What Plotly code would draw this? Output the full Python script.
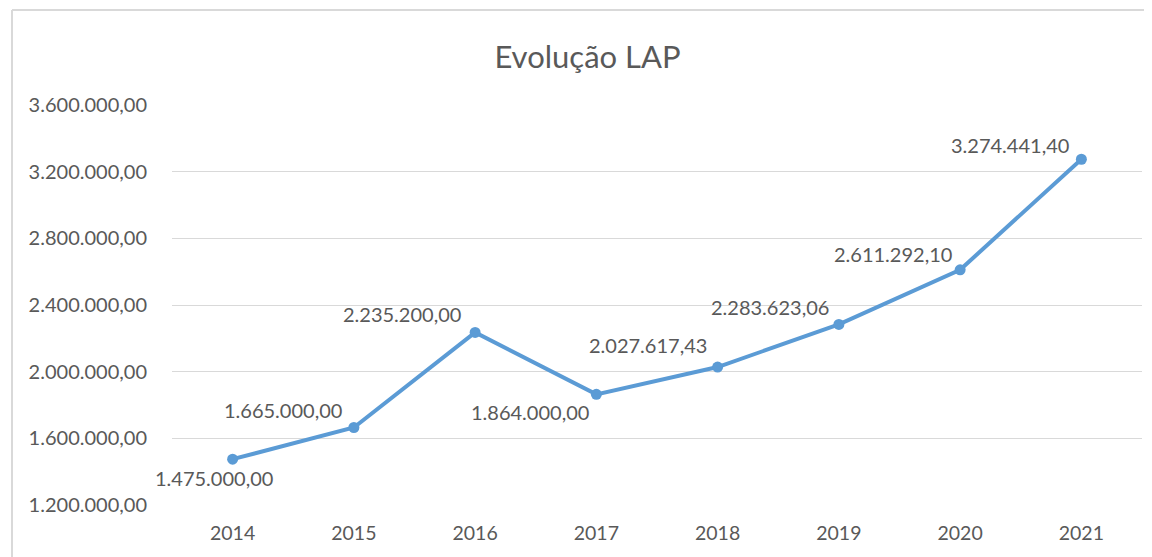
import plotly.graph_objects as go

years = ["2014", "2015", "2016", "2017", "2018", "2019", "2020", "2021"]
values = [1475000.00, 1665000.00, 2235200.00, 1864000.00, 2027617.43, 2283623.06, 2611292.10, 3274441.40]
y_ticks = [1200000, 1600000, 2000000, 2400000, 2800000, 3200000, 3600000]
title_text = "Evolução LAP"

# label offsets in pixels (style only)
label_dx = [-19, -71, -73, -66, -70, -69, -67, -71]
label_dy = [-19, 18, 18, -18, 22, 17, 16, 14]


def fmt_br(v):
    s = f"{v:,.2f}"
    return s.replace(",", "X").replace(".", ",").replace("X", ".")


FONT = "Lato"
GRAY = "#595959"
BLUE = "#5B9BD5"
GRID = "#D9D9D9"
OFF = 8  # page body margin

W, H = 1152 - OFF, 557 - OFF
PL, PR, PT, PB = 172 - OFF, 1142 - OFF, 105 - OFF, 505 - OFF

fig = go.Figure()
fig.add_trace(go.Scatter(
    x=years, y=values, mode="lines+markers",
    line=dict(color=BLUE, width=4),
    marker=dict(color=BLUE, size=11),
    hoverinfo="skip", showlegend=False,
))

for i, (v, dx, dy) in enumerate(zip(values, label_dx, label_dy)):
    fig.add_annotation(
        x=i, y=v, xref="x", yref="y", text=fmt_br(v), showarrow=False,
        xshift=dx, yshift=dy,
        font=dict(family=FONT, size=20, color=GRAY),
    )

# outer chart border (top and left edges visible in the crop)
pw, ph = PR - PL, PB - PT
bx0 = (12 - OFF - PL) / pw
bx1 = (W - PL) / pw
by0 = -(H - PB) / ph
by1 = (PB - (10 - OFF)) / ph
for x0, y0, x1, y1 in [(bx0, by1, bx1, by1), (bx0, by0, bx0, by1)]:
    fig.add_shape(type="line", xref="paper", yref="paper",
                  x0=x0, y0=y0, x1=x1, y1=y1,
                  line=dict(color=GRID, width=2), layer="below")

fig.update_layout(
    width=W, height=H,
    margin=dict(l=PL, r=W - PR, t=PT, b=H - PB),
    paper_bgcolor="white", plot_bgcolor="white",
    title=dict(text=title_text, x=(587.5 - OFF) / W, xref="container", xanchor="center",
               y=1 - (57 - OFF) / H, yref="container", yanchor="middle",
               font=dict(family=FONT, size=31, color=GRAY)),
    font=dict(family=FONT, color=GRAY),
)
fig.update_xaxes(
    type="category", range=[-0.5, 7.5],
    showgrid=False, showline=False, zeroline=False,
    ticks="outside", ticklen=11, tickcolor="rgba(0,0,0,0)",
    tickfont=dict(family=FONT, size=19.5, color=GRAY),
)
fig.update_yaxes(
    range=[1200000, 3600000],
    tickvals=y_ticks, ticktext=[fmt_br(t) for t in y_ticks],
    showgrid=True, gridcolor=GRID, gridwidth=1.3,
    showline=False, zeroline=False,
    ticks="outside", ticklen=20, tickcolor="rgba(0,0,0,0)",
    tickfont=dict(family=FONT, size=20, color=GRAY),
)

fig.write_html("out.html")
